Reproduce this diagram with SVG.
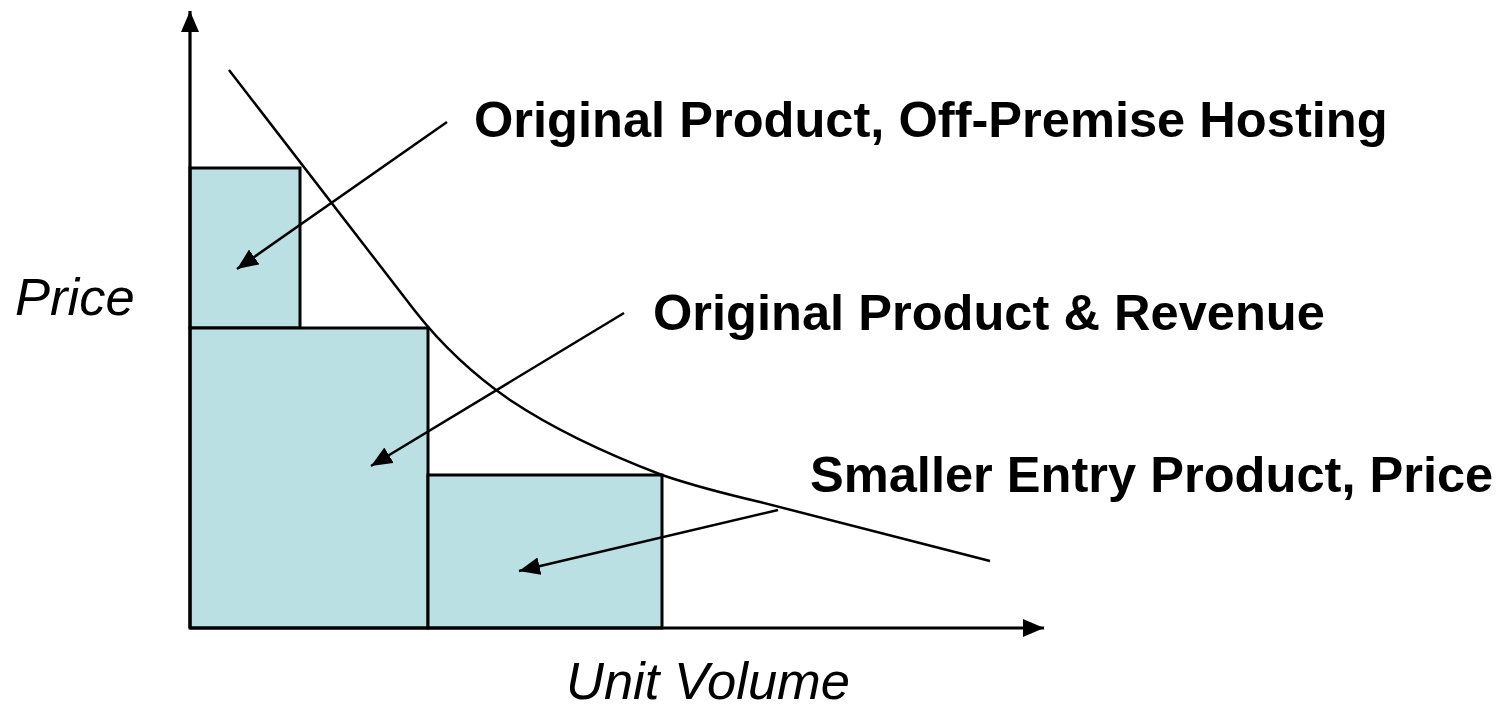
<svg xmlns="http://www.w3.org/2000/svg" width="1501" height="710" viewBox="0 0 1501 710">
<style>
.bar{fill:#BBE0E3;stroke:#000;stroke-width:3}
.ax{stroke:#000;stroke-width:3.2;fill:none}
.ln{stroke:#000;stroke-width:2.5;fill:none}
.lbl{font-family:"Liberation Sans",Arial,sans-serif;font-weight:bold;font-size:50.6px;fill:#000}
.axl{font-family:"Liberation Sans",Arial,sans-serif;font-style:italic;font-size:52.5px;fill:#000}
</style>
<defs>
<marker id="ah" markerUnits="userSpaceOnUse" markerWidth="24" markerHeight="20" refX="21" refY="9" orient="auto">
<path d="M0,0 L21,9 L0,18 Z" fill="#000"/>
</marker>
</defs>
<rect width="1501" height="710" fill="#fff"/>
<g id="bar1"><rect class="bar" x="190" y="168" width="110" height="160"/></g>
<g id="bar2"><rect class="bar" x="190" y="328" width="238" height="300"/></g>
<g id="bar3"><rect class="bar" x="428" y="475" width="234" height="153"/></g>
<g id="axes">
<line class="ax" x1="190" y1="628" x2="190" y2="11" marker-end="url(#ah)"/>
<line class="ax" x1="190" y1="628" x2="1044" y2="628" marker-end="url(#ah)"/>
</g>
<g id="curve">
<path class="ln" d="M229,70 L415,311 Q455,362 510,400 Q570,440 662,475 Q700,488 760,502 L990,561"/>
</g>
<g id="connectors">
<line class="ln" x1="447" y1="122" x2="237" y2="269" marker-end="url(#ah)"/>
<line class="ln" x1="624" y1="313" x2="371" y2="466" marker-end="url(#ah)"/>
<line class="ln" x1="778" y1="510" x2="519" y2="571" marker-end="url(#ah)"/>
</g>
<g id="label1"><text class="lbl" x="474" y="137">Original Product, Off-Premise Hosting</text></g>
<g id="label2"><text class="lbl" x="653" y="330">Original Product &amp; Revenue</text></g>
<g id="label3"><text class="lbl" x="810" y="492">Smaller Entry Product, Price</text></g>
<g id="ylabel"><text class="axl" x="15" y="315">Price</text></g>
<g id="xlabel"><text class="axl" x="566" y="699">Unit Volume</text></g>
</svg>
